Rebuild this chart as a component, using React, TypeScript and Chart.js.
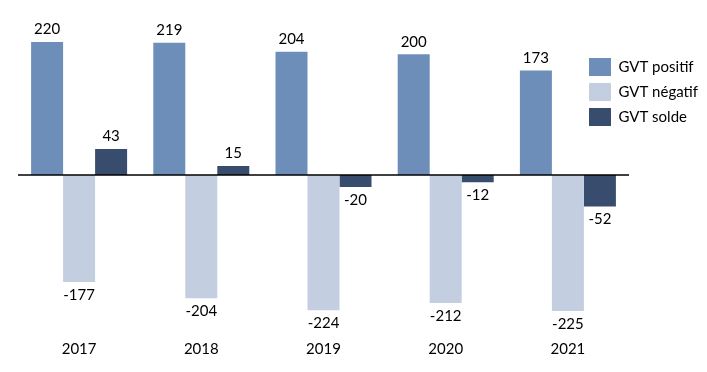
import { useEffect, useRef } from 'react';
import { Chart, registerables } from 'chart.js';

Chart.register(...registerables);

const years = ['2017', '2018', '2019', '2020', '2021'];
const gvtPositif = [220, 219, 204, 200, 173];
const gvtNegatif = [-177, -204, -224, -212, -225];
const gvtSolde = [43, 15, -20, -12, -52];
const seriesNames = ['GVT positif', 'GVT négatif', 'GVT solde'];
const seriesColors = ['#6E8EBA', '#C3CEE1', '#384C6D'];

const FONT = 'Lato, "Open Sans", sans-serif';

const zeroLinePlugin = {
  id: 'zeroLine',
  afterDatasetsDraw(chart: any) {
    const { ctx, chartArea, scales } = chart;
    const y = scales.y.getPixelForValue(0);
    ctx.save();
    ctx.strokeStyle = '#000000';
    ctx.lineWidth = 1.3;
    ctx.beginPath();
    ctx.moveTo(chartArea.left, y);
    ctx.lineTo(chartArea.right, y);
    ctx.stroke();
    ctx.restore();
  },
};

const valueLabelPlugin = {
  id: 'valueLabels',
  afterDatasetsDraw(chart: any) {
    const { ctx } = chart;
    ctx.save();
    ctx.font = `15px ${FONT}`;
    ctx.fillStyle = '#000000';
    ctx.textAlign = 'center';
    ctx.textBaseline = 'middle';
    chart.data.datasets.forEach((ds: any, di: number) => {
      const meta = chart.getDatasetMeta(di);
      meta.data.forEach((el: any, i: number) => {
        const v = ds.data[i] as number;
        const y = v >= 0 ? el.y - 12.5 : el.y + 13;
        ctx.fillText(String(v), el.x, y);
      });
    });
    ctx.restore();
  },
};

const legendPlacePlugin = {
  id: 'legendPlace',
  afterLayout(chart: any) {
    const l = chart.legend;
    if (!l) return;
    l.left = 582;
    l.right = 707;
    l.width = l.right - l.left;
    l.top = 51;
    l.bottom = 372;
    l.height = l.bottom - l.top;
  },
};

export default function App() {
  const canvasRef = useRef<HTMLCanvasElement | null>(null);

  useEffect(() => {
    if (!canvasRef.current) return;
    const chart = new Chart(canvasRef.current, {
      type: 'bar',
      data: {
        labels: years,
        datasets: [
          { label: seriesNames[0], data: gvtPositif, backgroundColor: seriesColors[0] },
          { label: seriesNames[1], data: gvtNegatif, backgroundColor: seriesColors[1] },
          { label: seriesNames[2], data: gvtSolde, backgroundColor: seriesColors[2] },
        ],
      },
      options: {
        responsive: false,
        animation: false,
        events: [],
        layout: { padding: { left: 18, top: 24, bottom: 14, right: 0 } },
        datasets: {
          bar: { categoryPercentage: 0.7856, barPercentage: 1, borderWidth: 0 },
        },
        scales: {
          x: {
            grid: { display: false, drawTicks: false },
            border: { display: false },
            ticks: { color: '#000000', font: { family: FONT, size: 15 }, padding: 14 },
            afterFit(scale: any) {
              scale.height = 32;
            },
          },
          y: {
            display: false,
            min: -250,
            max: 250,
          },
        },
        plugins: {
          tooltip: { enabled: false },
          legend: {
            position: 'right',
            align: 'start',
            maxWidth: 78,
            labels: {
              boxWidth: 22,
              boxHeight: 18,
              padding: 7,
              color: '#000000',
              font: { family: FONT, size: 15 },
            },
          },
        },
      },
      plugins: [zeroLinePlugin, valueLabelPlugin, legendPlacePlugin],
    });
    return () => chart.destroy();
  }, []);

  return (
    <div style={{ position: 'fixed', left: 0, top: 0, width: 707, height: 372, background: '#ffffff' }}>
      <canvas ref={canvasRef} width={707} height={372} style={{ display: 'block' }} />
    </div>
  );
}
